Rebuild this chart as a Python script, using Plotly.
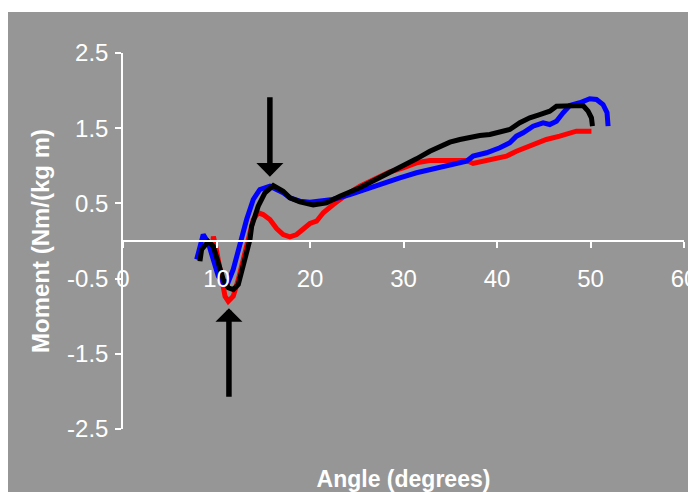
import plotly.graph_objects as go

# ---- data ----
blue_x = [7.88, 8.58, 9.12, 9.65, 10.19, 10.72, 11.15, 11.79, 12.51, 13.22, 13.93, 14.64, 15.71,
          17.13, 17.85, 18.92, 19.99, 21.06, 22.44, 24.26, 26.05, 27.82, 29.61, 31.39, 33.53,
          35.31, 36.74, 37.44, 38.88, 40.30, 41.37, 42.08, 42.79, 43.86, 44.93, 45.64, 46.36,
          47.07, 47.78, 48.85, 49.92, 50.64, 51.34, 51.77, 51.88]
blue_y = [-0.246, 0.086, -0.024, -0.246, -0.468, -0.552, -0.578, -0.379, -0.024, 0.286, 0.552,
          0.685, 0.729, 0.641, 0.574, 0.529, 0.516, 0.529, 0.552, 0.618, 0.694, 0.774, 0.840,
          0.907, 0.973, 1.017, 1.061, 1.128, 1.173, 1.239, 1.306, 1.394, 1.439, 1.527, 1.572,
          1.549, 1.593, 1.705, 1.802, 1.838, 1.891, 1.882, 1.815, 1.705, 1.527]

black_x = [8.23, 8.41, 9.12, 9.65, 10.19, 10.72, 11.26, 11.79, 12.33, 12.86, 13.58, 13.76, 14.46,
           15.18, 16.07, 17.13, 17.85, 18.92, 20.34, 21.77, 23.19, 25.33, 27.47, 29.61, 31.39,
           32.82, 33.89, 34.96, 36.03, 37.10, 38.16, 39.23, 40.30, 41.37, 42.44, 43.51, 44.57,
           45.64, 46.36, 47.78, 49.20, 49.74, 50.10, 50.21]
black_y = [-0.269, -0.113, -0.007, -0.069, -0.290, -0.512, -0.622, -0.645, -0.578, -0.335, 0.020,
           0.197, 0.463, 0.641, 0.738, 0.662, 0.574, 0.521, 0.479, 0.508, 0.596, 0.707, 0.840,
           0.973, 1.093, 1.194, 1.261, 1.314, 1.350, 1.380, 1.403, 1.416, 1.447, 1.483, 1.572,
           1.638, 1.682, 1.726, 1.793, 1.802, 1.802, 1.726, 1.638, 1.527]

red_x = [9.51, 9.67, 9.94, 10.19, 10.56, 10.91, 11.26, 11.79, 12.33, 12.86, 13.39, 13.93, 14.46,
         14.99, 15.71, 16.43, 17.13, 17.85, 18.57, 19.28, 19.99, 20.70, 21.42, 22.49, 23.92,
         25.34, 27.12, 28.54, 29.96, 31.39, 32.82, 36.74, 37.44, 38.51, 39.94, 41.01, 42.08,
         42.79, 43.86, 45.28, 46.71, 48.49, 50.10]
red_y = [-0.113, 0.060, -0.086, -0.246, -0.512, -0.734, -0.801, -0.734, -0.512, -0.246, 0.064,
         0.286, 0.375, 0.352, 0.286, 0.166, 0.086, 0.056, 0.086, 0.153, 0.233, 0.263, 0.375,
         0.485, 0.618, 0.729, 0.840, 0.920, 0.973, 1.040, 1.070, 1.070, 1.031, 1.061, 1.106,
         1.128, 1.194, 1.226, 1.283, 1.350, 1.394, 1.460, 1.460]

x_ticks = [0, 10, 20, 30, 40, 50, 60]
y_ticks = [-2.5, -1.5, -0.5, 0.5, 1.5, 2.5]
y_tick_labels = ["-2.5", "-1.5", "-0.5", "0.5", "1.5", "2.5"]

# arrow tips (data coords)
arrow_down_tip = (15.71, 0.856)
arrow_up_tip = (11.33, -0.893)

GRAY = "#969696"
NARROW = "Liberation Sans Narrow, Arial Narrow, Liberation Sans, Arial, sans-serif"
BOLD = "Liberation Sans, Arial, sans-serif"

fig = go.Figure()
for xs, ys, col in [(red_x, red_y, "#FF0000"), (blue_x, blue_y, "#0000FF"), (black_x, black_y, "#000000")]:
    fig.add_trace(go.Scatter(x=xs, y=ys, mode="lines", line=dict(color=col, width=5),
                             showlegend=False, hoverinfo="skip"))

# the page body has an 8px margin, so the figure starts at (8, 8) of the window
W, H = 688, 484
L, R, T, B = 115, 12, 45, 63
pw, ph = W - L - R, H - T - B

fig.update_layout(
    width=W, height=H,
    margin=dict(l=L, r=R, t=T, b=B, autoexpand=False),
    paper_bgcolor="white",
    plot_bgcolor="rgba(0,0,0,0)",
    showlegend=False,
    xaxis=dict(
        range=[0, 60], tickvals=x_ticks, ticktext=[str(v) for v in x_ticks],
        anchor="free", position=0.5, showline=True, linecolor="white", linewidth=1.5,
        ticks="outside", ticklen=6, tickcolor="white", tickwidth=1.5,
        showgrid=False, zeroline=False,
        tickfont=dict(family=NARROW, size=24, color="white"),
        ticklabelstandoff=10, ticklabeloverflow="allow",
        title=dict(text="Angle (degrees)",
                   font=dict(family=BOLD, size=23, color="white", weight="bold"),
                   standoff=179),
        automargin=False,
    ),
    yaxis=dict(
        range=[-2.5, 2.5], tickvals=y_ticks, ticktext=y_tick_labels,
        showline=True, linecolor="white", linewidth=1.5,
        ticks="outside", ticklen=6, tickcolor="white", tickwidth=1.5,
        showgrid=False, zeroline=False,
        tickfont=dict(family=NARROW, size=24, color="white"),
        ticklabelstandoff=2, ticklabeloverflow="allow",
        title=dict(text="Moment (Nm/(kg m)",
                   font=dict(family=BOLD, size=24, color="white", weight="bold"),
                   standoff=11),
        automargin=False,
    ),
    shapes=[dict(type="rect", xref="paper", yref="paper", layer="below",
                 x0=(0 - L) / pw, x1=(687 - L) / pw,
                 y0=-(B + 2) / ph, y1=1 + (T - 4) / ph,
                 fillcolor=GRAY, line=dict(width=0))],
    annotations=[
        dict(x=arrow_down_tip[0], y=arrow_down_tip[1], xref="x", yref="y", text="",
             showarrow=True, arrowhead=1, arrowwidth=5.5, arrowsize=0.82, arrowcolor="black",
             ax=0, ay=-81, standoff=0),
        dict(x=arrow_up_tip[0], y=arrow_up_tip[1], xref="x", yref="y", text="",
             showarrow=True, arrowhead=1, arrowwidth=5.5, arrowsize=0.82, arrowcolor="black",
             ax=0, ay=90, standoff=0),
    ],
)

fig.write_html("out.html")
